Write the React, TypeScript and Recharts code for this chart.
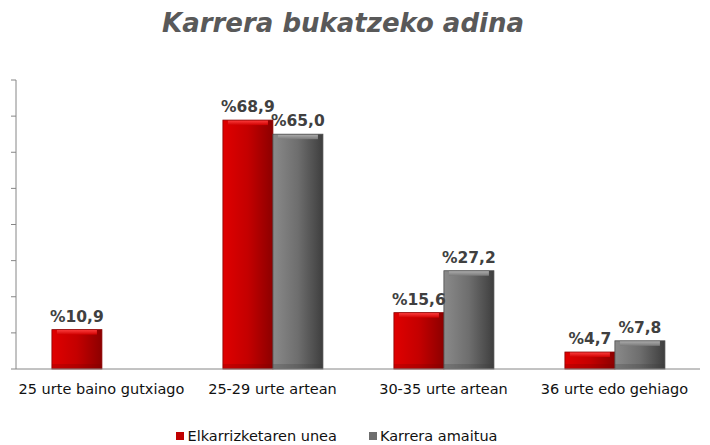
import React from 'react';
import {
  BarChart,
  Bar,
  XAxis,
  YAxis,
  LabelList,
  Legend,
} from 'recharts';

const categories = ['25 urte baino gutxiago', '25-29 urte artean', '30-35 urte artean', '36 urte edo gehiago'];
const interviewValues: (number | null)[] = [10.9, 68.9, 15.6, 4.7];
const finishedValues: (number | null)[] = [null, 65.0, 27.2, 7.8];
const yTicks = [0, 10, 20, 30, 40, 50, 60, 70, 80];
const seriesNames = ['Elkarrizketaren unea', 'Karrera amaitua'];

const data = categories.map((name, i) => ({
  name,
  interview: interviewValues[i],
  finished: finishedValues[i],
}));

const FONT = '"DejaVu Sans", Verdana, sans-serif';

const formatPct = (v: any) => (v == null ? '' : '%' + Number(v).toFixed(1).replace('.', ','));

// bevelled bar, a bit like the old office charts
const BevelBar = (kind: 'red' | 'gray') => (props: any) => {
  const { x, y, width, height } = props;
  if (!height || height <= 0) return null;
  const b = Math.min(5, height / 3);
  return (
    <g>
      <rect x={x} y={y} width={width} height={height} fill={`url(#${kind}Side)`} />
      <rect x={x + b} y={y} width={width - 2 * b} height={b} fill={`url(#${kind}Top)`} />
      <rect x={x} y={y + height - b} width={width} height={b} fill={kind === 'red' ? '#7a0000' : '#3a3a3a'} opacity={0.25} />
      <rect x={x} y={y} width={width} height={height} fill="none" stroke={kind === 'red' ? '#8a0000' : '#4a4a4a'} strokeWidth={0.8} />
    </g>
  );
};

const renderLegend = () => (
  <div style={{ display: 'flex', justifyContent: 'center', paddingRight: 26, paddingTop: 3, fontFamily: FONT, fontSize: 14.5, color: '#111' }}>
    {seriesNames.map((n, i) => (
      <span key={n} style={{ display: 'inline-flex', alignItems: 'center', marginRight: i === 0 ? 32 : 0 }}>
        <span
          style={{
            display: 'inline-block',
            width: 8,
            height: 8,
            marginRight: 3,
            background: i === 0 ? '#c00000' : '#6e6e6e',
          }}
        />
        {n}
      </span>
    ))}
  </div>
);

export default function App() {
  return (
    <div style={{ position: 'absolute', left: 0, top: 0, width: 710, height: 445, background: '#fff' }}>
      <div
        style={{
          position: 'absolute',
          top: 6,
          width: 686,
          textAlign: 'center',
          fontFamily: FONT,
          fontWeight: 'bold',
          fontStyle: 'italic',
          fontSize: 26,
          lineHeight: '34px',
          color: '#595959',
        }}
      >
        Karrera bukatzeko adina
      </div>
      <BarChart
        width={710}
        height={445}
        data={data}
        margin={{ top: 80, right: 10, bottom: 0, left: 0 }}
        barCategoryGap="21%"
        barGap={0}
      >
        <defs>
          <linearGradient id="redSide" x1="0" y1="0" x2="1" y2="0">
            <stop offset="0%" stopColor="#e00000" />
            <stop offset="50%" stopColor="#c40000" />
            <stop offset="100%" stopColor="#8c0000" />
          </linearGradient>
          <linearGradient id="redTop" x1="0" y1="0" x2="0" y2="1">
            <stop offset="0%" stopColor="#ff4040" />
            <stop offset="100%" stopColor="#d00000" />
          </linearGradient>
          <linearGradient id="graySide" x1="0" y1="0" x2="1" y2="0">
            <stop offset="0%" stopColor="#8a8a8a" />
            <stop offset="50%" stopColor="#6e6e6e" />
            <stop offset="100%" stopColor="#3e3e3e" />
          </linearGradient>
          <linearGradient id="grayTop" x1="0" y1="0" x2="0" y2="1">
            <stop offset="0%" stopColor="#b0b0b0" />
            <stop offset="100%" stopColor="#7a7a7a" />
          </linearGradient>
        </defs>
        {/* ticks between categories */}
        <XAxis
          xAxisId="sep"
          type="number"
          domain={[0, 4]}
          ticks={[0, 1, 2, 3, 4]}
          height={0}
          axisLine={false}
          tickLine={{ stroke: '#868686' }}
          tickSize={6}
          tickFormatter={() => ''}
        />
        <XAxis
          dataKey="name"
          height={56}
          axisLine={{ stroke: '#868686' }}
          tickLine={false}
          tick={{ fontFamily: FONT, fontSize: 14.5, fill: '#111' }}
          interval={0}
          tickMargin={9}
        />
        <YAxis
          width={16}
          domain={[0, 80]}
          ticks={yTicks}
          axisLine={{ stroke: '#868686' }}
          tickLine={{ stroke: '#868686' }}
          tickSize={5}
          tickFormatter={() => ''}
        />
        <Legend verticalAlign="bottom" height={20} content={renderLegend} />
        <Bar dataKey="interview" name={seriesNames[0]} fill="#c00000" shape={BevelBar('red')} isAnimationActive={false}>
          <LabelList dataKey="interview" position="top" offset={8} formatter={formatPct}
            style={{ fontFamily: FONT, fontSize: 15.5, fontWeight: 'bold', fill: '#404040' }} />
        </Bar>
        <Bar dataKey="finished" name={seriesNames[1]} fill="#6e6e6e" shape={BevelBar('gray')} isAnimationActive={false}>
          <LabelList dataKey="finished" position="top" offset={8} formatter={formatPct}
            style={{ fontFamily: FONT, fontSize: 15.5, fontWeight: 'bold', fill: '#404040' }} />
        </Bar>
      </BarChart>
    </div>
  );
}
